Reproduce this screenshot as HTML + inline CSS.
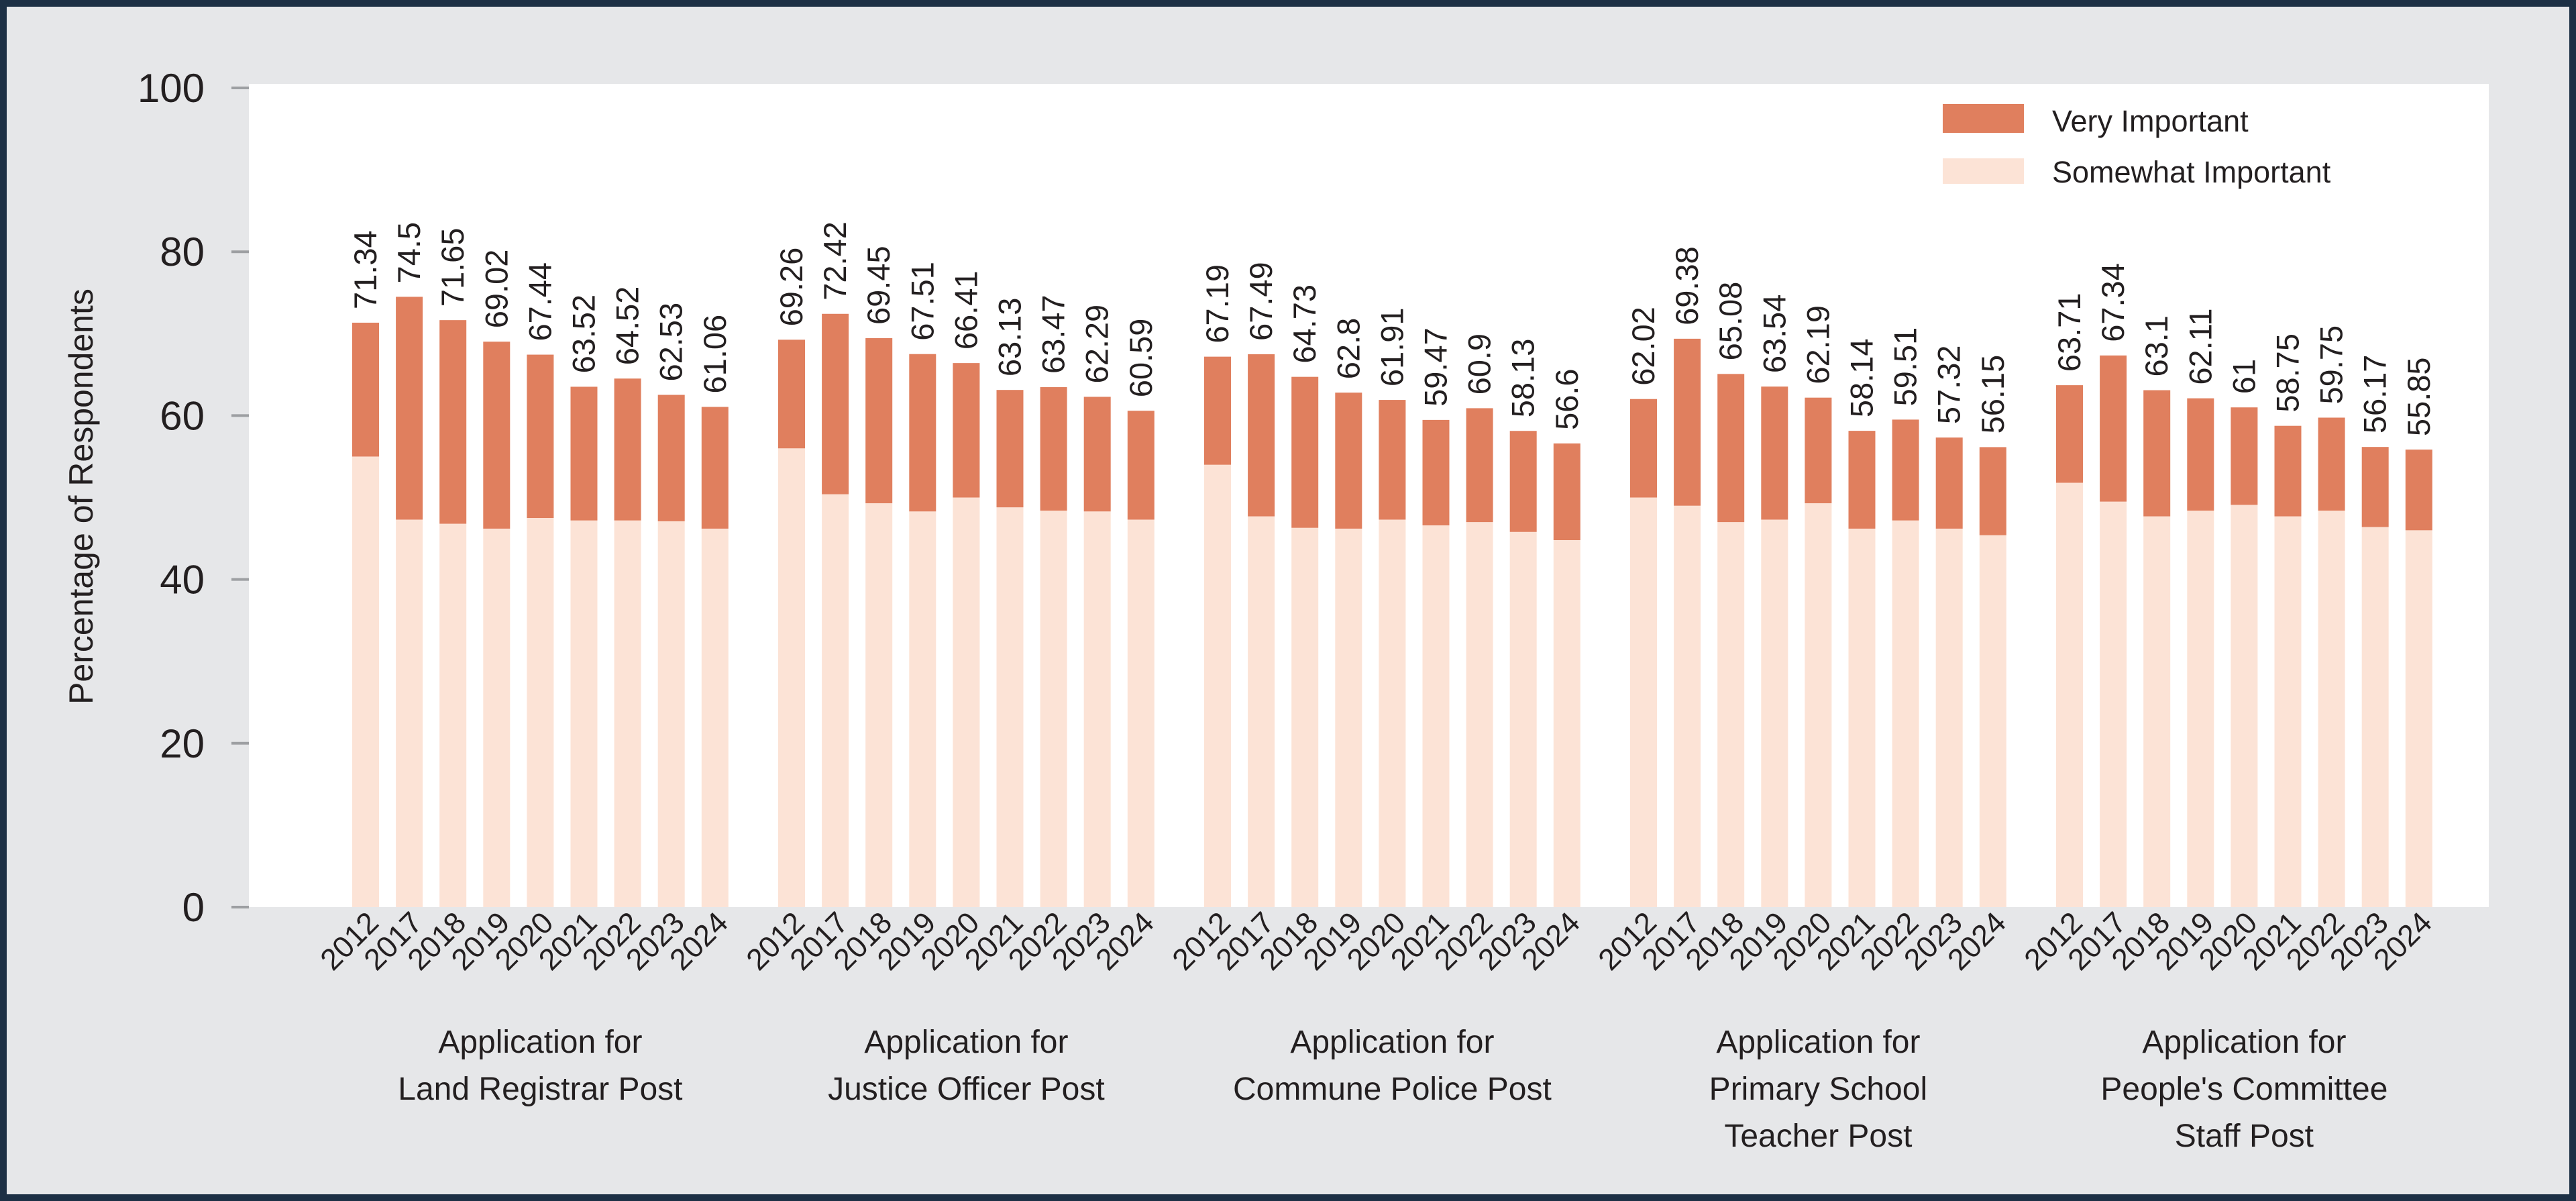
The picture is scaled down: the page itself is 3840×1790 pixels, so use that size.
<!DOCTYPE html>
<html><head><meta charset="utf-8"><style>
html,body{margin:0;padding:0;width:3840px;height:1790px;overflow:hidden;background:#e6e7e9;}
svg{display:block;font-family:"Liberation Sans",sans-serif;}
</style></head><body>
<svg id="chart" width="3840" height="1790" viewBox="0 0 3840 1790" xmlns="http://www.w3.org/2000/svg">
<rect x="5" y="5" width="3830" height="1780" fill="#e6e7e9" stroke="#1d3045" stroke-width="10"/>
<rect x="371" y="125" width="3339" height="1227" fill="#ffffff"/>
<g id="axis"></g>
<g id="bars"></g>
<g id="labels"></g>
<text transform="translate(138,740) rotate(-90)" text-anchor="middle" font-size="50" fill="#231f20">Percentage of Respondents</text>
<g>
<rect x="2896" y="155" width="121" height="43" fill="#e07f5e"/>
<text x="3059" y="196" font-size="45" fill="#231f20">Very Important</text>
<rect x="2896" y="236" width="121" height="38" fill="#fce3d6"/>
<text x="3059" y="272" font-size="45" fill="#231f20">Somewhat Important</text>
</g>
</svg>
<script>
const categories = [["Application for","Land Registrar Post"],["Application for","Justice Officer Post"],["Application for","Commune Police Post"],["Application for","Primary School","Teacher Post"],["Application for","People's Committee","Staff Post"]];
const years = ["2012","2017","2018","2019","2020","2021","2022","2023","2024"];
const totals = [
 [71.34,74.5,71.65,69.02,67.44,63.52,64.52,62.53,61.06],
 [69.26,72.42,69.45,67.51,66.41,63.13,63.47,62.29,60.59],
 [67.19,67.49,64.73,62.8,61.91,59.47,60.9,58.13,56.6],
 [62.02,69.38,65.08,63.54,62.19,58.14,59.51,57.32,56.15],
 [63.71,67.34,63.1,62.11,61,58.75,59.75,56.17,55.85]];
const somewhat = [
 [55.0,47.3,46.8,46.2,47.5,47.2,47.2,47.1,46.2],
 [56.0,50.4,49.3,48.3,50.0,48.8,48.4,48.3,47.3],
 [54.0,47.7,46.3,46.2,47.3,46.6,47.0,45.8,44.8],
 [50.0,49.0,47.0,47.3,49.3,46.2,47.2,46.2,45.4],
 [51.8,49.5,47.7,48.4,49.1,47.7,48.4,46.4,46.0]];
const yTicks = [0,20,40,60,80,100];

const NS="http://www.w3.org/2000/svg";
const y0=1352, yTop=131;
function yScale(v){return y0-(y0-yTop)*v/100;}
function xScale(g,i){return 545+g*635+i*65.1;}
const BW=40;
function mk(tag,attrs,parent,txt){const e=document.createElementNS(NS,tag);for(const k in attrs)e.setAttribute(k,attrs[k]);if(txt!==undefined)e.textContent=txt;parent.appendChild(e);return e;}
const axis=document.getElementById('axis'),bars=document.getElementById('bars'),labels=document.getElementById('labels');
yTicks.forEach(t=>{
  const y=yScale(t);
  const l=mk('line',{x1:345,x2:371,y1:y,y2:y,stroke:'#9d9fa2','stroke-width':4},axis);
  
  
  const tx=mk('text',{x:305,y:y+21,'text-anchor':'end','font-size':60,fill:'#231f20'},axis,String(t));
  
  
});
categories.forEach((cat,g)=>{
  years.forEach((yr,i)=>{
    const cx=xScale(g,i), x=cx-BW/2;
    const s=somewhat[g][i], t=totals[g][i];
    const r1=mk('rect',{x:x,y:yScale(s),width:BW,height:y0-yScale(s),fill:'#fce3d6'},bars);
    
    
    const r2=mk('rect',{x:x,y:yScale(t),width:BW,height:yScale(s)-yScale(t),fill:'#e07f5e'},bars);
    
    
    const vl=mk('text',{transform:`translate(${cx+16},${yScale(t)-20}) rotate(-90)`,'font-size':47,fill:'#231f20'},labels,String(t));
    
    
    const yl=mk('text',{transform:`translate(${cx+22},${1378}) rotate(-45)`,'text-anchor':'end','font-size':45,fill:'#231f20'},labels,yr);
    
    
  });
  const ccx=xScale(g,4);
  cat.forEach((line,k)=>{
    const c=mk('text',{x:ccx,y:1569+k*70,'text-anchor':'middle','font-size':48,fill:'#231f20'},labels,line);
    
    
  });
});
</script>
</body></html>
